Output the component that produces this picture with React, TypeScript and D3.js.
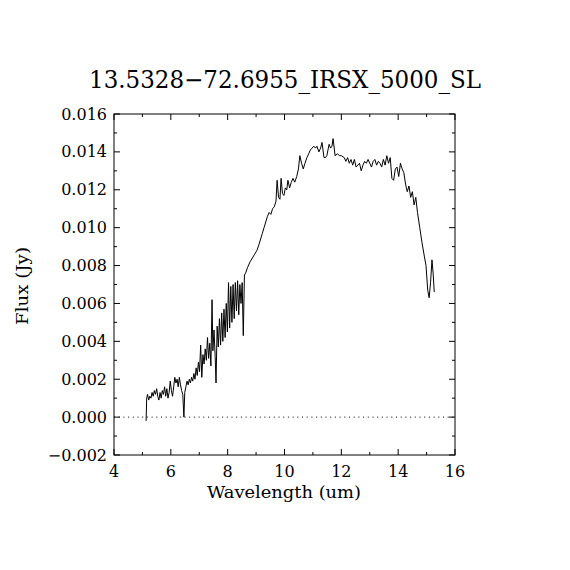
import React, { useEffect, useRef } from 'react';
import * as d3 from 'd3';

// wavelength (um)
const wavelength: number[] = [
  5.13, 5.15, 5.18, 5.22, 5.26, 5.30, 5.34, 5.38, 5.42, 5.46, 5.50, 5.54, 5.58, 5.62, 5.66, 5.70,
  5.74, 5.78, 5.82, 5.86, 5.90, 5.94, 5.98, 6.02, 6.06, 6.10, 6.14, 6.18, 6.22, 6.26, 6.30, 6.34,
  6.38, 6.42, 6.46, 6.49, 6.53, 6.57, 6.61, 6.65, 6.69, 6.73, 6.77, 6.81, 6.85, 6.89, 6.93, 6.97,
  7.01, 7.05, 7.09, 7.13, 7.17, 7.21, 7.25, 7.29, 7.33, 7.37, 7.41, 7.45, 7.48, 7.52, 7.56, 7.59,
  7.63, 7.67, 7.71, 7.75, 7.79, 7.83, 7.87, 7.91, 7.95, 7.99, 8.03, 8.07, 8.11, 8.15, 8.19, 8.23,
  8.27, 8.31, 8.35, 8.39, 8.43, 8.47, 8.51, 8.55, 8.59, 8.63, 8.70, 8.79, 8.87, 8.95, 9.03, 9.10,
  9.16, 9.22, 9.28, 9.34, 9.40, 9.46, 9.52, 9.58, 9.64, 9.70, 9.74, 9.79, 9.84, 9.88, 9.93, 9.98,
  10.03, 10.08, 10.12, 10.18, 10.24, 10.30, 10.36, 10.43, 10.49, 10.54, 10.60, 10.66, 10.72, 10.79,
  10.85, 10.91, 10.97, 11.03, 11.09, 11.14, 11.21, 11.27, 11.32, 11.39, 11.44, 11.49, 11.57, 11.62,
  11.67, 11.71, 11.78, 11.86, 11.94, 12.00, 12.10, 12.16, 12.22, 12.28, 12.34, 12.40, 12.46, 12.52,
  12.58, 12.64, 12.70, 12.76, 12.82, 12.88, 12.94, 13.00, 13.06, 13.12, 13.18, 13.24, 13.30, 13.36,
  13.42, 13.48, 13.54, 13.60, 13.66, 13.72, 13.78, 13.84, 13.90, 13.96, 14.02, 14.08, 14.14, 14.20,
  14.26, 14.32, 14.38, 14.44, 14.50, 14.56, 14.62, 14.68, 14.76, 14.84, 14.92, 14.98, 15.04, 15.09,
  15.14, 15.19, 15.23, 15.27,
];

// flux (Jy)
const flux: number[] = [
  -0.0002, 0.0010, 0.0012, 0.0009, 0.0011, 0.0010, 0.0013, 0.0011, 0.0014, 0.0012, 0.0015, 0.0011, 0.0009, 0.0013, 0.0010, 0.0014,
  0.0012, 0.0016, 0.0011, 0.0015, 0.0010, 0.0013, 0.0019, 0.0014, 0.0011, 0.0016, 0.0021, 0.0018, 0.0020, 0.0016, 0.0021, 0.0017,
  0.0014, 0.0012, 0.0000, 0.0013, 0.0016, 0.0019, 0.0017, 0.0020, 0.0018, 0.0021, 0.0019, 0.0023, 0.0020, 0.0026, 0.0022, 0.0029,
  0.0024, 0.0038, 0.0021, 0.0033, 0.0028, 0.0036, 0.0030, 0.0042, 0.0031, 0.0039, 0.0027, 0.0062, 0.0035, 0.0046, 0.0032, 0.0018,
  0.0048, 0.0037, 0.0052, 0.0038, 0.0055, 0.0040, 0.0057, 0.0042, 0.0060, 0.0045, 0.0071, 0.0047, 0.0069, 0.0050, 0.0070, 0.0052,
  0.0071, 0.0056, 0.0072, 0.0054, 0.0070, 0.0060, 0.0071, 0.0043, 0.0075, 0.0076, 0.0079, 0.0082, 0.0084, 0.0086, 0.0088, 0.0091,
  0.0094, 0.0097, 0.0100, 0.0103, 0.0106, 0.0108, 0.0107, 0.0110, 0.0111, 0.0114, 0.0125, 0.0116, 0.0115, 0.0126, 0.0118, 0.0117,
  0.0121, 0.0120, 0.0125, 0.0121, 0.0124, 0.0126, 0.0124, 0.0127, 0.0131, 0.0138, 0.0134, 0.0131, 0.0134, 0.0137,
  0.0139, 0.0141, 0.0142, 0.0143, 0.0142, 0.0143, 0.0140, 0.0142, 0.0145, 0.0137, 0.0137, 0.0138, 0.0144, 0.0142,
  0.0143, 0.0147, 0.0138, 0.0139, 0.0138, 0.0138, 0.0137, 0.0135, 0.0137, 0.0134, 0.0136, 0.0133, 0.0136, 0.0132,
  0.0133, 0.0134, 0.0130, 0.0133, 0.0135, 0.0134, 0.0136, 0.0134, 0.0132, 0.0135, 0.0136, 0.0133, 0.0135, 0.0134,
  0.0132, 0.0136, 0.0133, 0.0138, 0.0134, 0.0137, 0.0126, 0.0125, 0.0131, 0.0132, 0.0127, 0.0134, 0.0131, 0.0129,
  0.0123, 0.0119, 0.0122, 0.0116, 0.0119, 0.0112, 0.0116, 0.0108, 0.0100, 0.0092, 0.0085, 0.0080, 0.0067, 0.0063,
  0.0071, 0.0083, 0.0076, 0.0066,
];

const xTicks = [4, 6, 8, 10, 12, 14, 16];
const xMinor = [5, 7, 9, 11, 13, 15];
const yTicks = [-0.002, 0, 0.002, 0.004, 0.006, 0.008, 0.010, 0.012, 0.014, 0.016];
const yMinor = [-0.001, 0.001, 0.003, 0.005, 0.007, 0.009, 0.011, 0.013, 0.015];

const title = '13.5328\u221272.6955_IRSX_5000_SL';
const xLabel = 'Wavelength (um)';
const yLabel = 'Flux (Jy)';

const App: React.FC = () => {
  const svgRef = useRef<SVGSVGElement>(null);
  const width = 570;
  const height = 570;
  const left = 114, right = 455, top = 114, bottom = 455;
  const font = '"DejaVu Serif", serif';

  useEffect(() => {
    if (!svgRef.current) return;
    const svg = d3.select(svgRef.current);
    svg.selectAll('*').remove();

    const x = d3.scaleLinear().domain([4, 16]).range([left, right]);
    const y = d3.scaleLinear().domain([-0.002, 0.016]).range([bottom, top]);

    // zero line
    svg.append('line')
      .attr('x1', left).attr('x2', right)
      .attr('y1', y(0)).attr('y2', y(0))
      .attr('stroke', '#000')
      .attr('stroke-width', 1)
      .attr('stroke-dasharray', '1,3.7');

    // spectrum
    const line = d3.line<number>()
      .x((d, i) => x(wavelength[i]))
      .y(d => y(d));
    svg.append('path')
      .datum(flux)
      .attr('d', line)
      .attr('fill', 'none')
      .attr('stroke', '#000')
      .attr('stroke-width', 1)
      .attr('stroke-linejoin', 'miter');

    // frame
    svg.append('rect')
      .attr('x', left).attr('y', top)
      .attr('width', right - left).attr('height', bottom - top)
      .attr('fill', 'none').attr('stroke', '#000').attr('stroke-width', 1);

    const ticks = svg.append('g').attr('stroke', '#000').attr('stroke-width', 1);
    const addX = (vals: number[], len: number) => {
      vals.forEach(v => {
        ticks.append('line').attr('x1', x(v)).attr('x2', x(v)).attr('y1', bottom).attr('y2', bottom - len);
        ticks.append('line').attr('x1', x(v)).attr('x2', x(v)).attr('y1', top).attr('y2', top + len);
      });
    };
    const addY = (vals: number[], len: number) => {
      vals.forEach(v => {
        ticks.append('line').attr('x1', left).attr('x2', left + len).attr('y1', y(v)).attr('y2', y(v));
        ticks.append('line').attr('x1', right).attr('x2', right - len).attr('y1', y(v)).attr('y2', y(v));
      });
    };
    addX(xTicks, 6);
    addX(xMinor, 3);
    addY(yTicks, 6);
    addY(yMinor, 3);

    svg.append('g')
      .selectAll('text')
      .data(xTicks)
      .enter()
      .append('text')
      .attr('x', d => x(d))
      .attr('y', 477)
      .attr('text-anchor', 'middle')
      .attr('font-family', font)
      .attr('font-size', 16)
      .text(d => d.toString());

    svg.append('g')
      .selectAll('text')
      .data(yTicks)
      .enter()
      .append('text')
      .attr('x', 107)
      .attr('y', d => y(d) + 5.5)
      .attr('text-anchor', 'end')
      .attr('font-family', font)
      .attr('font-size', 16)
      .text(d => d3.format('.3f')(d).replace('-', '\u2212'));

    svg.append('text')
      .attr('x', 285).attr('y', 88)
      .attr('text-anchor', 'middle')
      .attr('font-family', font)
      .attr('font-size', 24)
      .attr('textLength', 392)
      .attr('lengthAdjust', 'spacingAndGlyphs')
      .text(title);

    svg.append('text')
      .attr('x', 284).attr('y', 498)
      .attr('text-anchor', 'middle')
      .attr('font-family', font)
      .attr('font-size', 16)
      .attr('textLength', 154)
      .attr('lengthAdjust', 'spacingAndGlyphs')
      .text(xLabel);

    svg.append('text')
      .attr('transform', 'translate(28,286) rotate(-90)')
      .attr('text-anchor', 'middle')
      .attr('font-family', font)
      .attr('font-size', 16)
      .attr('textLength', 78)
      .attr('lengthAdjust', 'spacingAndGlyphs')
      .text(yLabel);
  }, []);

  return (
    <svg
      ref={svgRef}
      width={width}
      height={height}
      style={{ position: 'absolute', left: 0, top: 0, background: '#fff' }}
    />
  );
};

export default App;
